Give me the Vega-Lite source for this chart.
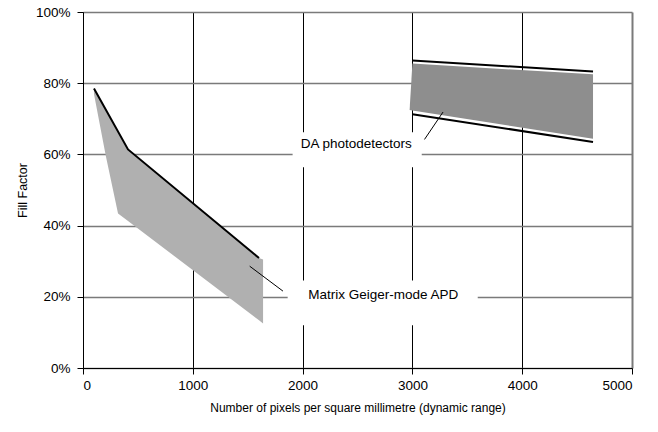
{
  "$schema": "https://vega.github.io/schema/vega-lite/v6.json",
  "width": 549,
  "height": 356,
  "autosize": {"type": "none"},
  "padding": {"left": 83, "top": 12, "right": 26, "bottom": 64},
  "background": "white",
  "config": {
    "view": {"stroke": null},
    "font": "Liberation Sans",
    "axis": {
      "labelFont": "Liberation Sans",
      "titleFont": "Liberation Sans",
      "labelColor": "#000",
      "titleColor": "#000",
      "titleFontWeight": "normal",
      "domainColor": "#000",
      "tickColor": "#000",
      "tickSize": 6
    }
  },
  "datasets": {
    "matrixArea": [
      {"x": 100, "hi": 0.785, "lo": 0.77},
      {"x": 207, "hi": 0.726, "lo": 0.597},
      {"x": 319, "hi": 0.664, "lo": 0.434},
      {"x": 410, "hi": 0.614, "lo": 0.413},
      {"x": 1603, "hi": 0.309, "lo": 0.134},
      {"x": 1640, "hi": 0.305, "lo": 0.125}
    ],
    "daArea": [
      {"x": 2975, "hi": 0.727, "lo": 0.725},
      {"x": 3000, "hi": 0.855, "lo": 0.723},
      {"x": 4645, "hi": 0.825, "lo": 0.644}
    ],
    "lines": [
      {"series": "matrix", "x": 100, "y": 0.785},
      {"series": "matrix", "x": 410, "y": 0.614},
      {"series": "matrix", "x": 1603, "y": 0.309},
      {"series": "daTop", "x": 3000, "y": 0.864},
      {"series": "daTop", "x": 4645, "y": 0.833},
      {"series": "daBottom", "x": 3000, "y": 0.713},
      {"series": "daBottom", "x": 4645, "y": 0.635}
    ],
    "leaders": [
      {"x": 1518, "y": 0.286, "x2": 1821, "y2": 0.216},
      {"x": 3110, "y": 0.642, "x2": 3279, "y2": 0.719}
    ],
    "boxes": [
      {"x": 1864, "x2": 3595, "y": 0.246, "y2": 0.12},
      {"x": 1909, "x2": 3085, "y": 0.662, "y2": 0.564}
    ],
    "labels": [
      {"x": 2734, "y": 0.206, "text": "Matrix Geiger-mode APD"},
      {"x": 2488, "y": 0.63, "text": "DA photodetectors"}
    ]
  },
  "layer": [
    {
      "data": {"name": "boxes"},
      "mark": {"type": "rect", "fill": "white", "stroke": null},
      "encoding": {
        "x": {
          "field": "x", "type": "quantitative",
          "scale": {"domain": [0, 5000], "nice": false},
          "axis": {
            "values": [0, 1000, 2000, 3000, 4000, 5000],
            "format": "d",
            "title": "Number of pixels per square millimetre (dynamic range)",
            "labelFontSize": 13.5,
            "titleFontSize": 12,
            "labelPadding": 4,
            "titlePadding": 11,
            "grid": true,
            "gridColor": {"condition": {"test": "datum.value == 5000", "value": "#7a7a7a"}, "value": "#000"},
            "gridWidth": {"condition": {"test": "datum.value == 5000", "value": 2}, "value": 1},
            "gridOpacity": 1
          }
        },
        "x2": {"field": "x2"},
        "y": {
          "field": "y", "type": "quantitative",
          "scale": {"domain": [0, 1], "nice": false},
          "axis": {
            "values": [0, 0.2, 0.4, 0.6, 0.8, 1],
            "format": ".0%",
            "title": "Fill Factor",
            "labelFontSize": 13.5,
            "titleFontSize": 12.5,
            "labelPadding": 7,
            "titlePadding": 6,
            "grid": true,
            "gridColor": "#7a7a7a",
            "gridWidth": 1.6,
            "gridOpacity": 1
          }
        },
        "y2": {"field": "y2"}
      }
    },
    {
      "data": {"name": "matrixArea"},
      "mark": {"type": "area", "color": "#b0b0b0", "opacity": 1},
      "encoding": {
        "x": {"field": "x", "type": "quantitative"},
        "y": {"field": "hi", "type": "quantitative"},
        "y2": {"field": "lo"}
      }
    },
    {
      "data": {"name": "daArea"},
      "mark": {"type": "area", "color": "#8e8e8e", "opacity": 1},
      "encoding": {
        "x": {"field": "x", "type": "quantitative"},
        "y": {"field": "hi", "type": "quantitative"},
        "y2": {"field": "lo"}
      }
    },
    {
      "data": {"name": "lines"},
      "mark": {"type": "line", "color": "#000", "strokeWidth": 2},
      "encoding": {
        "x": {"field": "x", "type": "quantitative"},
        "y": {"field": "y", "type": "quantitative"},
        "detail": {"field": "series", "type": "nominal"}
      }
    },
    {
      "data": {"name": "leaders"},
      "mark": {"type": "rule", "color": "#000", "strokeWidth": 1},
      "encoding": {
        "x": {"field": "x", "type": "quantitative"},
        "y": {"field": "y", "type": "quantitative"},
        "x2": {"field": "x2"},
        "y2": {"field": "y2"}
      }
    },
    {
      "data": {"name": "labels"},
      "mark": {"type": "text", "font": "Liberation Sans", "fontSize": 13.5, "color": "#000", "align": "center", "baseline": "middle"},
      "encoding": {
        "x": {"field": "x", "type": "quantitative"},
        "y": {"field": "y", "type": "quantitative"},
        "text": {"field": "text"}
      }
    }
  ]
}
